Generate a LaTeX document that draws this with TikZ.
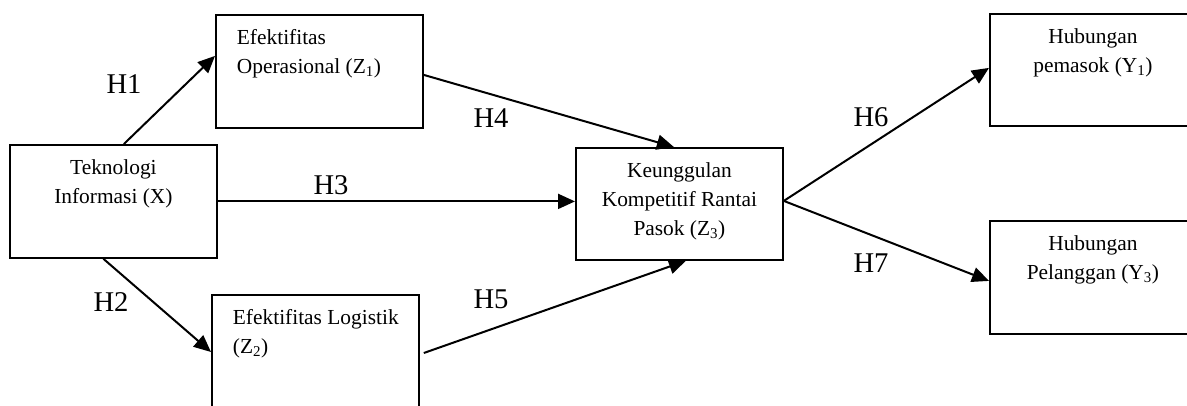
\documentclass[tikz,border=0pt]{standalone}
\usepackage{fontspec}
\setmainfont{Liberation Serif}
\usetikzlibrary{arrows.meta,calc}
\newcommand\varcontent[4]{\begin{minipage}[t][#2][t]{#1}#3\rule{0pt}{30pt}#4\end{minipage}}
\tikzset{
  var/.style={draw, line width=1.8pt, inner sep=0pt, anchor=north west,
    font=\fontsize{21.4}{28.8}\selectfont},
  hyp/.style={font=\fontsize{28.6}{34}\selectfont, inner sep=0pt},
  link/.style={line width=2pt, -{Triangle[length=17pt,width=15pt]}}
}
\begin{document}
\begin{tikzpicture}[x=1pt,y=-1pt]
\path[use as bounding box] (0,0) rectangle (1187,405);
\clip (0,0) rectangle (1187,405);
% boxes
\node[var] (X) at (9,144) {\varcontent{207pt}{113pt}{\centering}{Teknologi\\Informasi (X)}};
\node[var] (Z1) at (215,14) {\varcontent{207pt}{113pt}{\raggedright\leftskip=21pt}{Efektifitas\\Operasional (Z\textsubscript{1})}};
\node[var] (Z2) at (211,294) {\varcontent{207pt}{130pt}{\raggedright\leftskip=21pt}{Efektifitas Logistik\\(Z\textsubscript{2})}};
\node[var] (Z3) at (575,147) {\varcontent{207pt}{112pt}{\centering}{Keunggulan\\Kompetitif Rantai\\Pasok (Z\textsubscript{3})}};
\node[var] (Y1) at (989,13) {\varcontent{206pt}{112pt}{\centering}{Hubungan\\pemasok (Y\textsubscript{1})}};
\node[var] (Y3) at (989,220) {\varcontent{206pt}{113pt}{\centering}{Hubungan\\Pelanggan (Y\textsubscript{3})}};
% connectors
\draw[link] ([xshift=10.5pt]X.north) -- ([yshift=15.5pt]Z1.west);
\draw[link] ([xshift=-10pt]X.south) -- ([yshift=-58pt]Z2.north west);
\draw[link] (X.east) -- (X.east -| Z3.west);
\draw[link] ([yshift=-3.5pt]Z1.east) -- ([xshift=-5.5pt]Z3.north);
\draw[link] ([xshift=4pt,yshift=-59pt]Z2.north east) -- ([xshift=6.5pt]Z3.south);
\draw[link] ([yshift=3pt]Z3.east) -- ([yshift=2pt]Y1.west);
\draw[link] ([yshift=3pt]Z3.east) -- ([yshift=-3.5pt]Y3.west);
% labels
\node[hyp] (h1) at (124,84) {H1};
\node[hyp] (h2) at (111,302) {H2};
\node[hyp] (h3) at (331,185) {H3};
\node[hyp] (h4) at (491,118) {H4};
\node[hyp] (h5) at (491,299) {H5};
\node[hyp] (h6) at (871,117) {H6};
\node[hyp] (h7) at (871,263) {H7};
\end{tikzpicture}
\end{document}
